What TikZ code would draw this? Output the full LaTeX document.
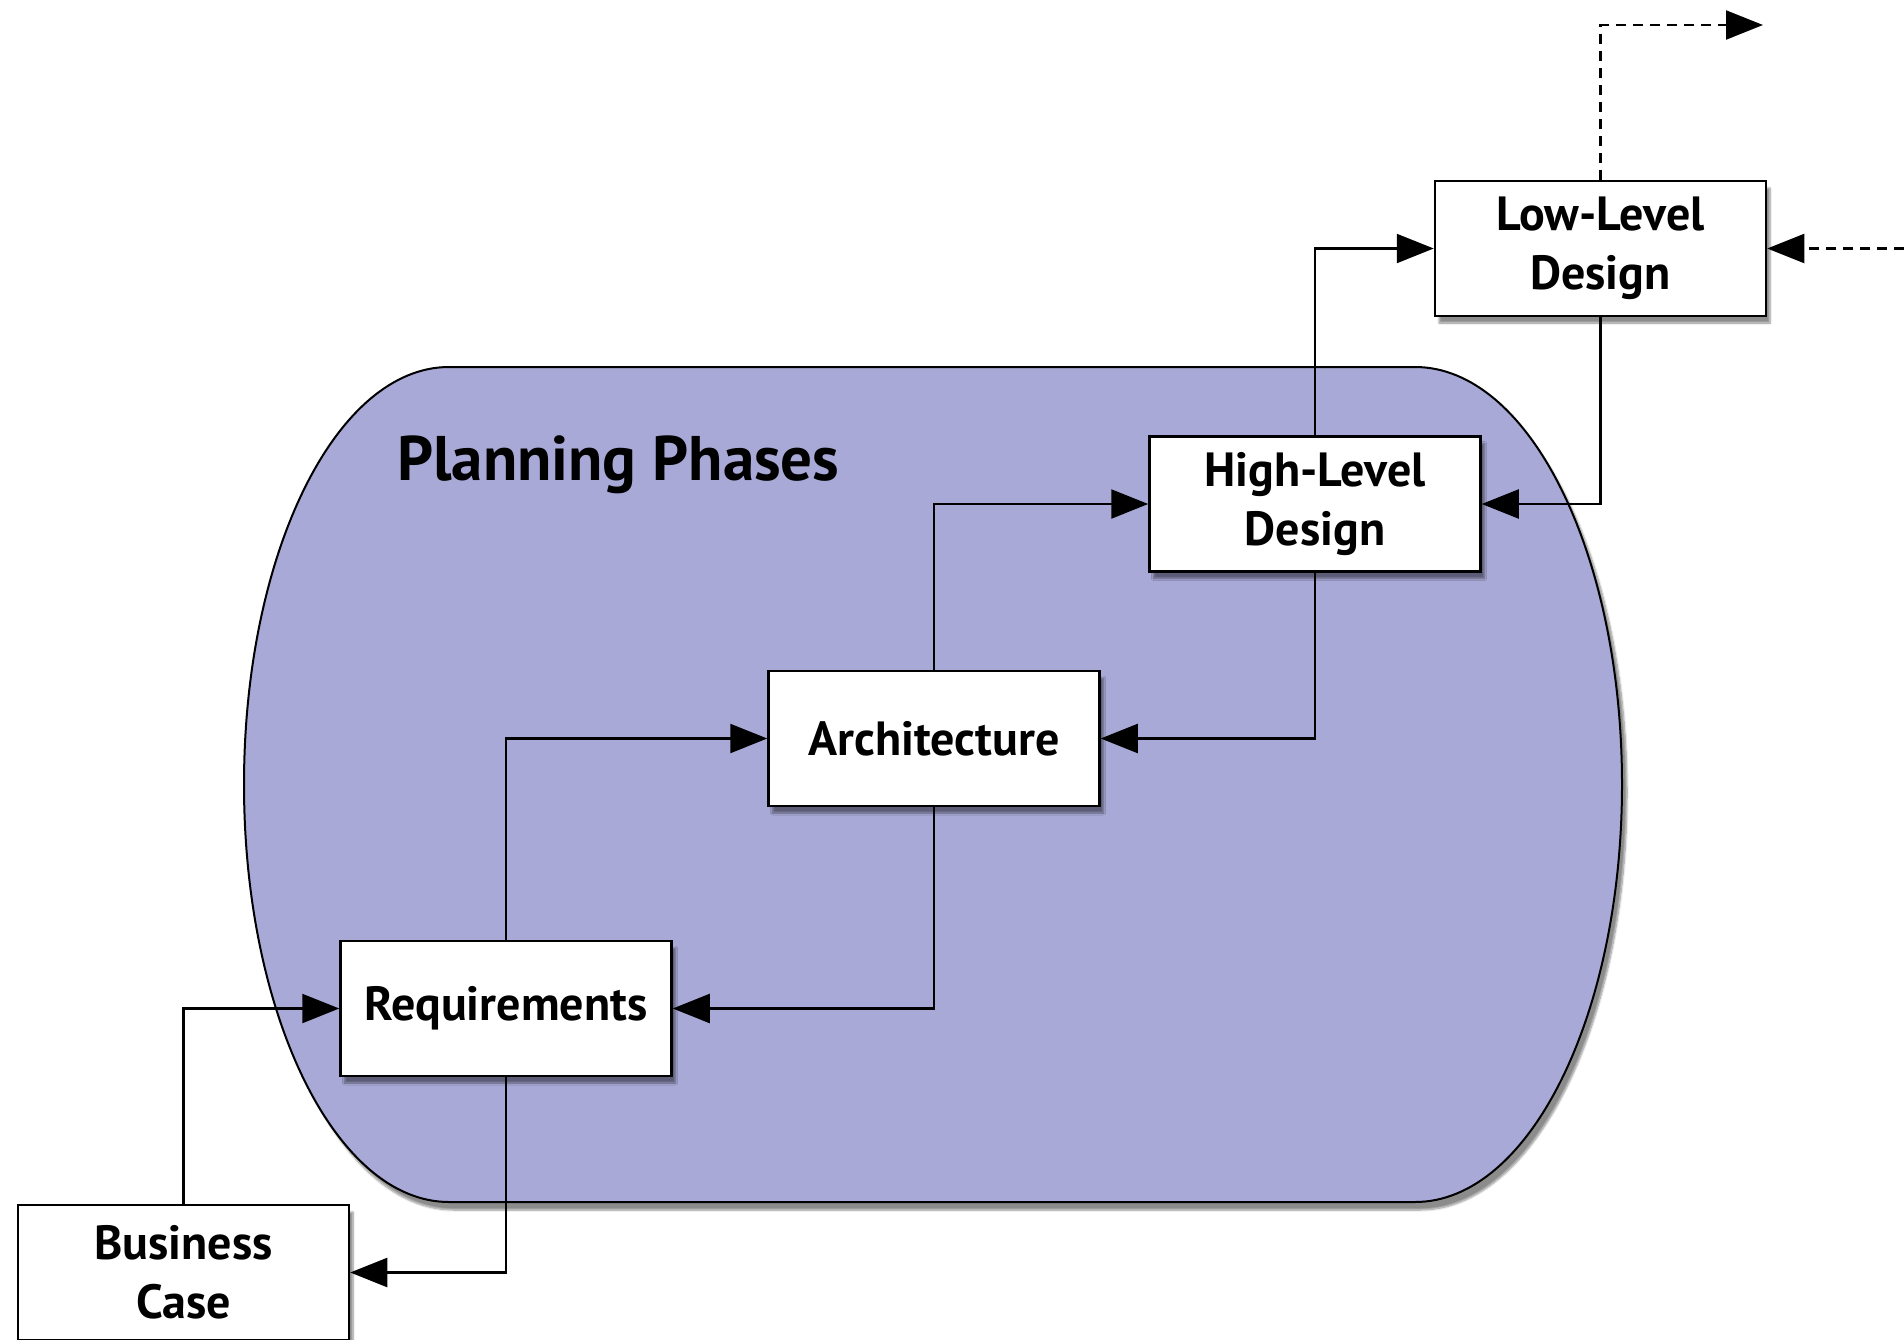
\documentclass[tikz,border=0pt]{standalone}
\usepackage{fontspec}
\setmainfont{PT Sans}
\usetikzlibrary{arrows.meta,shadows.blur}
\definecolor{phasefill}{RGB}{169,169,215}
\tikzset{
  phasebox/.style={draw=black, line width=2.5pt, fill=white, minimum width=331pt, minimum height=135pt,
    align=center, font=\fontsize{48}{59}\selectfont\bfseries, inner sep=0pt,
    blur shadow={shadow xshift=4pt, shadow yshift=-7pt, shadow blur steps=6, shadow opacity=45}},
  conn/.style={draw=black, line width=2.2pt, -{Triangle[length=37pt,width=29pt,fill=black,color=black]}},
  dashconn/.style={conn, dash pattern=on 10pt off 7pt},
}
\begin{document}
\begin{tikzpicture}[x=1pt,y=-1pt]
\useasboundingbox (0,0) rectangle (1904,1339);
\clip (0,0) rectangle (1904,1339);
% planning phases region
\path[draw=black, line width=2pt, fill=phasefill,
  blur shadow={shadow xshift=5pt, shadow yshift=-8pt, shadow blur steps=8, shadow opacity=45}]
  (449,367) -- (1415,367) arc[start angle=-90, end angle=90, x radius=207, y radius=417.5]
  -- (449,1202) arc[start angle=90, end angle=270, x radius=205, y radius=417.5] -- cycle;
\node[anchor=base west, font=\fontsize{63}{70}\selectfont\bfseries, inner sep=0pt] (title) at (397,480) {Planning Phases};
% boxes
\node[phasebox] (lld) at (1600.5,248.5) {Low-Level\\Design};
\node[phasebox] (hld) at (1315,504) {High-Level\\Design};
\node[phasebox] (arch) at (934,738.5) {Architecture};
\node[phasebox] (req) at (506,1008.5) {Requirements};
\node[phasebox] (bc) at (183.5,1272.5) {Business\\Case};
% connectors
\draw[conn] (bc.north) |- (req.west);
\draw[conn] (req.south) |- (bc.east);
\draw[conn] (req.north) |- (arch.west);
\draw[conn] (arch.south) |- (req.east);
\draw[conn] (arch.north) |- (hld.west);
\draw[conn] (hld.south) |- (arch.east);
\draw[conn] (hld.north) |- (lld.west);
\draw[conn] (lld.south) |- (hld.east);
\coordinate (dtop) at (1763,25);
\coordinate (dright) at (1904,248.5);
\draw[dashconn] (lld.north) |- (dtop);
\draw[dashconn] (dright) -- (lld.east);
\end{tikzpicture}
\end{document}
